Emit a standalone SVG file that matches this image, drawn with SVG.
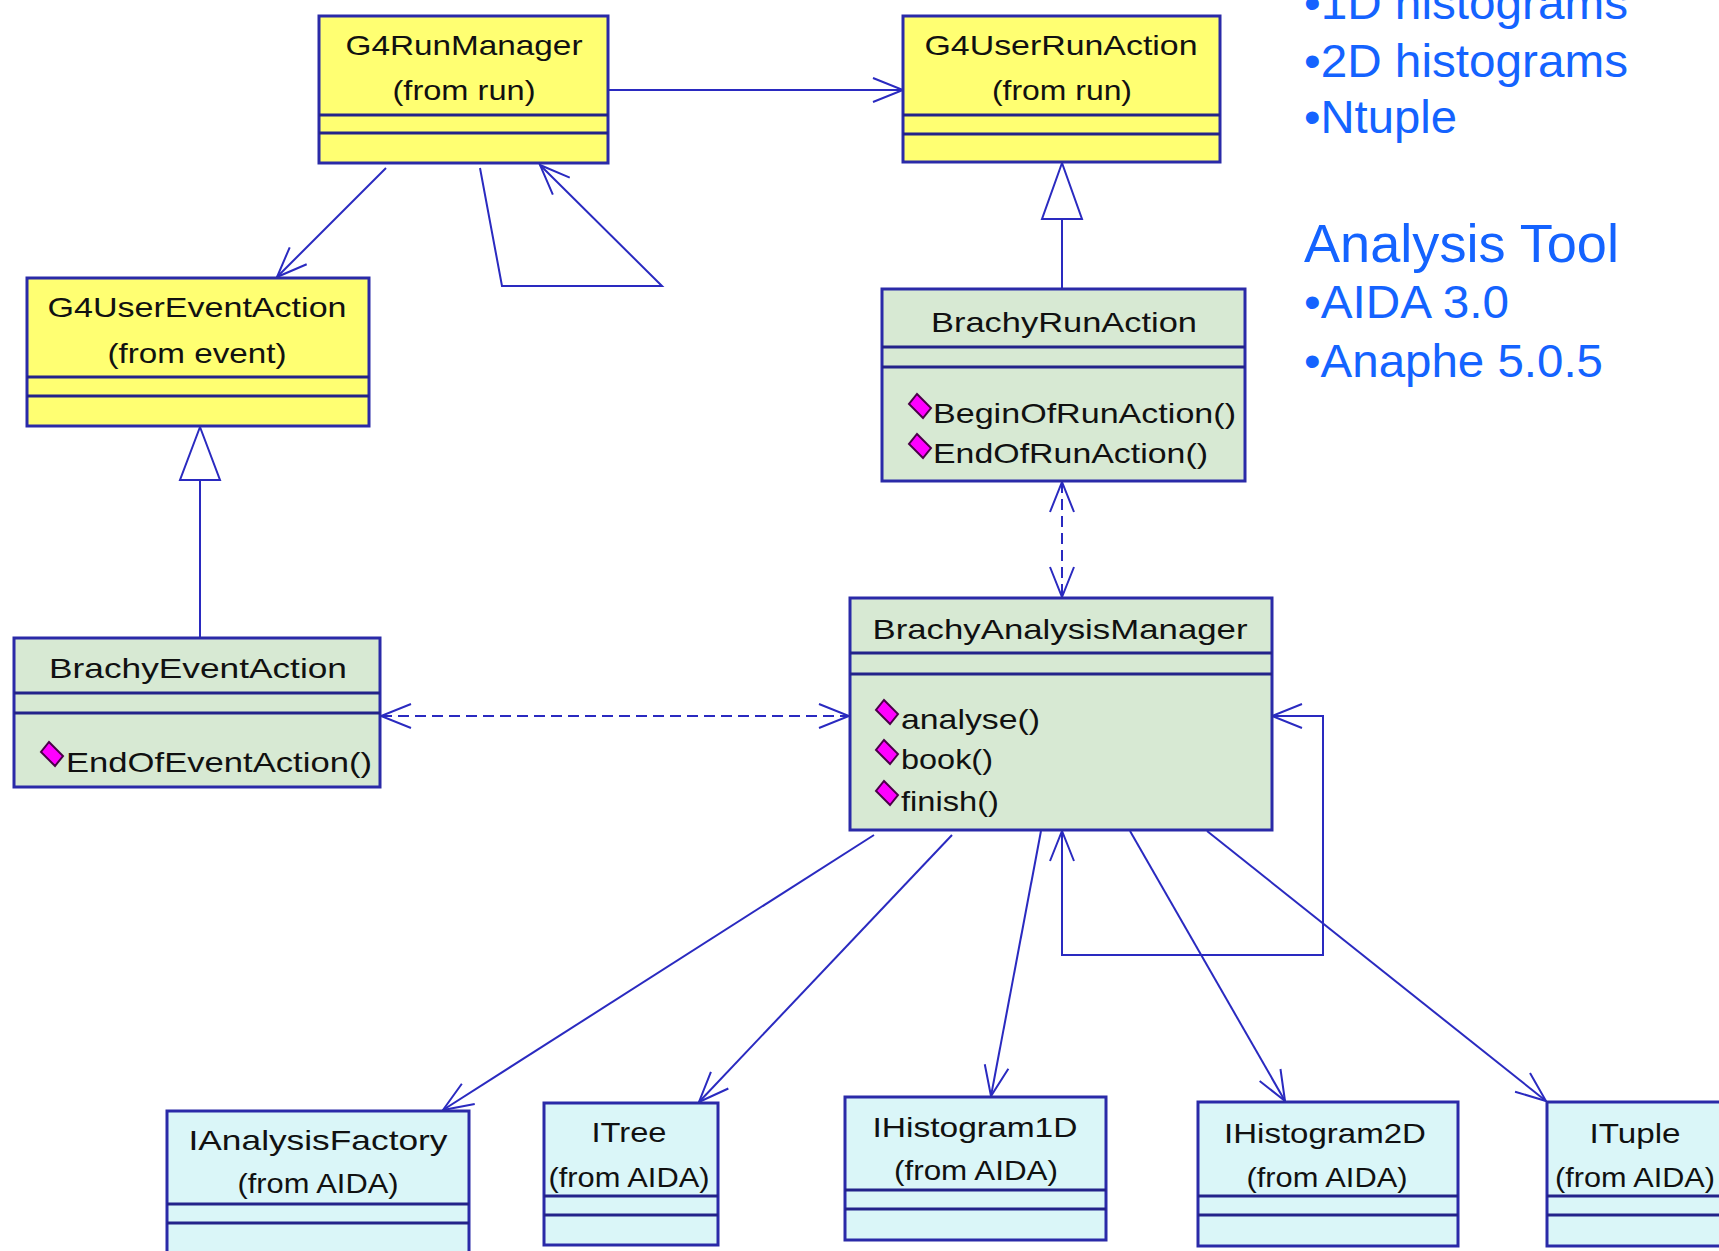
<svg xmlns="http://www.w3.org/2000/svg" width="1719" height="1251" viewBox="0 0 1719 1251">
<style>
.box{stroke:#2a2aa8;stroke-width:3}
.y{fill:#ffff72}
.g{fill:#d7e9d3}
.c{fill:#daf6f8}
.div{stroke:#23238a;stroke-width:3}
.t{font-family:"Liberation Sans",Arial,sans-serif;font-size:28px;fill:#111111}
.m{text-anchor:middle}
.ln{fill:none;stroke:#2a2ac0;stroke-width:2}
.dash{stroke-dasharray:11 6}
.gen{fill:#ffffff;stroke:#2a2ac0;stroke-width:2}
.blue{font-family:"Liberation Sans",Arial,sans-serif;font-size:47px;fill:#1463ff}
</style>
<defs>
<marker id="arr" viewBox="-34 -16 36 32" refX="0" refY="0" markerWidth="36" markerHeight="32" markerUnits="userSpaceOnUse" orient="auto-start-reverse">
<path d="M-30,-12 L0,0 L-30,12" fill="none" stroke="#2a2ac0" stroke-width="2"/>
</marker>
<polygon id="dia" points="-3,-12 11,2 3,12 -11,-2" fill="#ff00ff" stroke="#4a0048" stroke-width="2"/>
</defs>
<rect width="1719" height="1251" fill="#ffffff"/>

<g id="connectors">
<path class="ln" d="M608 90 L903 90" marker-end="url(#arr)"/>
<path class="ln" d="M386 168 L277 277" marker-end="url(#arr)"/>
<path class="ln" d="M480 168 L502 286 L662 286 L540 165" marker-end="url(#arr)"/>
<path class="ln" d="M1062 289 L1062 219"/>
<polygon class="gen" points="1062,163 1042,219 1082,219"/>
<path class="ln" d="M200 638 L200 480"/>
<polygon class="gen" points="200,427 180,480 220,480"/>
<path class="ln dash" d="M1062 482 L1062 597" marker-start="url(#arr)" marker-end="url(#arr)"/>
<path class="ln dash" d="M381 716 L849 716" marker-start="url(#arr)" marker-end="url(#arr)"/>
<path class="ln" d="M1272 716 L1323 716 L1323 955 L1062 955 L1062 831" marker-start="url(#arr)" marker-end="url(#arr)"/>
<path class="ln" d="M874 835 L443 1110" marker-end="url(#arr)"/>
<path class="ln" d="M952 835 L699 1102" marker-end="url(#arr)"/>
<path class="ln" d="M1041 831 L991 1096" marker-end="url(#arr)"/>
<path class="ln" d="M1130 831 L1285 1101" marker-end="url(#arr)"/>
<path class="ln" d="M1207 831 L1546 1101" marker-end="url(#arr)"/>
</g>

<g id="G4RunManager">
<rect class="box y" x="319" y="16" width="289" height="147"/>
<line class="div" x1="319" y1="115" x2="608" y2="115"/>
<line class="div" x1="319" y1="133" x2="608" y2="133"/>
<text class="t m" x="464" y="55" textLength="237" lengthAdjust="spacingAndGlyphs">G4RunManager</text>
<text class="t m" x="464" y="100" textLength="143" lengthAdjust="spacingAndGlyphs">(from run)</text>
</g>

<g id="G4UserRunAction">
<rect class="box y" x="903" y="16" width="317" height="146"/>
<line class="div" x1="903" y1="115" x2="1220" y2="115"/>
<line class="div" x1="903" y1="134" x2="1220" y2="134"/>
<text class="t m" x="1061" y="55" textLength="273" lengthAdjust="spacingAndGlyphs">G4UserRunAction</text>
<text class="t m" x="1062" y="100" textLength="140" lengthAdjust="spacingAndGlyphs">(from run)</text>
</g>

<g id="G4UserEventAction">
<rect class="box y" x="27" y="278" width="342" height="148"/>
<line class="div" x1="27" y1="377" x2="369" y2="377"/>
<line class="div" x1="27" y1="396" x2="369" y2="396"/>
<text class="t m" x="197" y="317" textLength="299" lengthAdjust="spacingAndGlyphs">G4UserEventAction</text>
<text class="t m" x="197" y="363" textLength="179" lengthAdjust="spacingAndGlyphs">(from event)</text>
</g>

<g id="BrachyEventAction">
<rect class="box g" x="14" y="638" width="366" height="149"/>
<line class="div" x1="14" y1="693" x2="380" y2="693"/>
<line class="div" x1="14" y1="713" x2="380" y2="713"/>
<text class="t m" x="198" y="678" textLength="298" lengthAdjust="spacingAndGlyphs">BrachyEventAction</text>
<use href="#dia" x="52" y="754"/>
<text class="t" x="66" y="772" textLength="306" lengthAdjust="spacingAndGlyphs">EndOfEventAction()</text>
</g>

<g id="BrachyRunAction">
<rect class="box g" x="882" y="289" width="363" height="192"/>
<line class="div" x1="882" y1="347" x2="1245" y2="347"/>
<line class="div" x1="882" y1="367" x2="1245" y2="367"/>
<text class="t m" x="1064" y="332" textLength="266" lengthAdjust="spacingAndGlyphs">BrachyRunAction</text>
<use href="#dia" x="920" y="406"/>
<text class="t" x="933" y="423" textLength="303" lengthAdjust="spacingAndGlyphs">BeginOfRunAction()</text>
<use href="#dia" x="920" y="446"/>
<text class="t" x="933" y="463" textLength="275" lengthAdjust="spacingAndGlyphs">EndOfRunAction()</text>
</g>

<g id="BrachyAnalysisManager">
<rect class="box g" x="850" y="598" width="422" height="232"/>
<line class="div" x1="850" y1="653" x2="1272" y2="653"/>
<line class="div" x1="850" y1="674" x2="1272" y2="674"/>
<text class="t m" x="1060" y="639" textLength="375" lengthAdjust="spacingAndGlyphs">BrachyAnalysisManager</text>
<use href="#dia" x="887" y="712"/>
<text class="t" x="901" y="729" textLength="139" lengthAdjust="spacingAndGlyphs">analyse()</text>
<use href="#dia" x="887" y="752"/>
<text class="t" x="901" y="769" textLength="92" lengthAdjust="spacingAndGlyphs">book()</text>
<use href="#dia" x="887" y="793"/>
<text class="t" x="901" y="811" textLength="98" lengthAdjust="spacingAndGlyphs">finish()</text>
</g>

<g id="IAnalysisFactory">
<rect class="box c" x="167" y="1111" width="302" height="160"/>
<line class="div" x1="167" y1="1204" x2="469" y2="1204"/>
<line class="div" x1="167" y1="1223" x2="469" y2="1223"/>
<text class="t m" x="318" y="1150" textLength="259" lengthAdjust="spacingAndGlyphs">IAnalysisFactory</text>
<text class="t m" x="318" y="1193" textLength="161" lengthAdjust="spacingAndGlyphs">(from AIDA)</text>
</g>

<g id="ITree">
<rect class="box c" x="544" y="1103" width="174" height="142"/>
<line class="div" x1="544" y1="1196" x2="718" y2="1196"/>
<line class="div" x1="544" y1="1215" x2="718" y2="1215"/>
<text class="t m" x="629" y="1142" textLength="75" lengthAdjust="spacingAndGlyphs">ITree</text>
<text class="t m" x="629" y="1187" textLength="161" lengthAdjust="spacingAndGlyphs">(from AIDA)</text>
</g>

<g id="IHistogram1D">
<rect class="box c" x="845" y="1097" width="261" height="143"/>
<line class="div" x1="845" y1="1190" x2="1106" y2="1190"/>
<line class="div" x1="845" y1="1209" x2="1106" y2="1209"/>
<text class="t m" x="975" y="1137" textLength="205" lengthAdjust="spacingAndGlyphs">IHistogram1D</text>
<text class="t m" x="976" y="1180" textLength="164" lengthAdjust="spacingAndGlyphs">(from AIDA)</text>
</g>

<g id="IHistogram2D">
<rect class="box c" x="1198" y="1102" width="260" height="144"/>
<line class="div" x1="1198" y1="1196" x2="1458" y2="1196"/>
<line class="div" x1="1198" y1="1215" x2="1458" y2="1215"/>
<text class="t m" x="1325" y="1143" textLength="202" lengthAdjust="spacingAndGlyphs">IHistogram2D</text>
<text class="t m" x="1327" y="1187" textLength="161" lengthAdjust="spacingAndGlyphs">(from AIDA)</text>
</g>

<g id="ITuple">
<rect class="box c" x="1547" y="1102" width="180" height="144"/>
<line class="div" x1="1547" y1="1196" x2="1727" y2="1196"/>
<line class="div" x1="1547" y1="1215" x2="1727" y2="1215"/>
<text class="t m" x="1635" y="1143" textLength="91" lengthAdjust="spacingAndGlyphs">ITuple</text>
<text class="t m" x="1635" y="1187" textLength="160" lengthAdjust="spacingAndGlyphs">(from AIDA)</text>
</g>

<g id="notes">
<text class="blue" x="1304" y="19" textLength="324" lengthAdjust="spacingAndGlyphs">•1D histograms</text>
<text class="blue" x="1304" y="77" textLength="324" lengthAdjust="spacingAndGlyphs">•2D histograms</text>
<text class="blue" x="1304" y="133" textLength="153" lengthAdjust="spacingAndGlyphs">•Ntuple</text>
<text class="blue" x="1304" y="262" style="font-size:53px" textLength="315" lengthAdjust="spacingAndGlyphs">Analysis Tool</text>
<text class="blue" x="1304" y="318" textLength="205" lengthAdjust="spacingAndGlyphs">•AIDA 3.0</text>
<text class="blue" x="1304" y="377" textLength="299" lengthAdjust="spacingAndGlyphs">•Anaphe 5.0.5</text>
</g>
</svg>
